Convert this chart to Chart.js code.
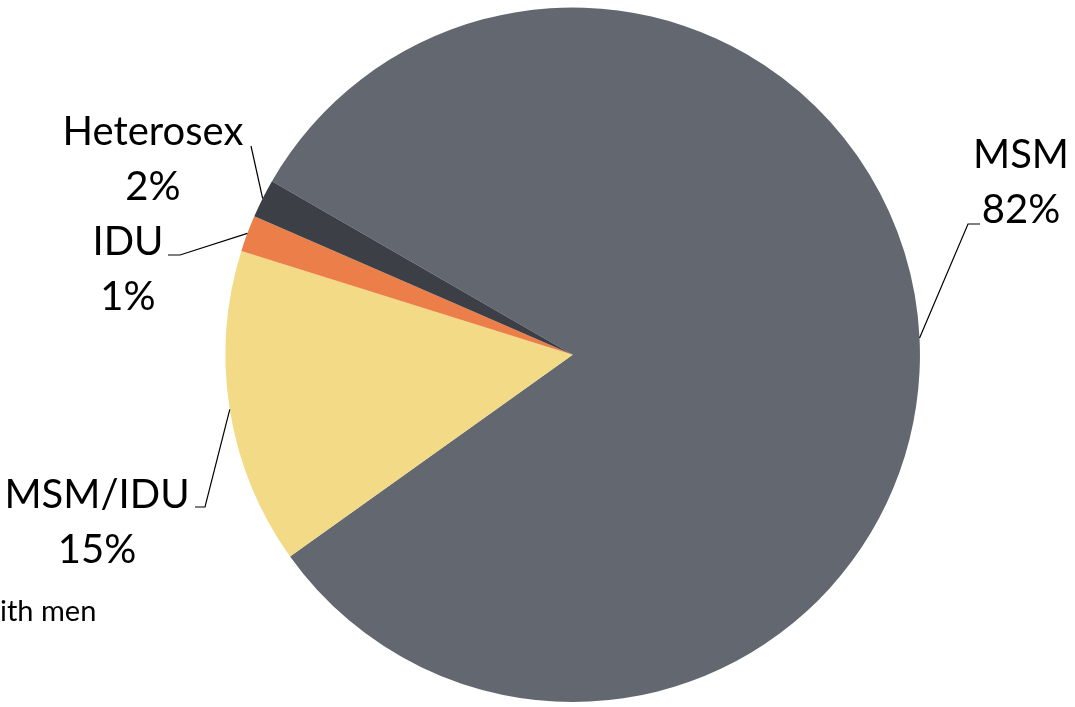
<!DOCTYPE html>
<html>
<head>
<meta charset="utf-8">
<script src="https://cdn.jsdelivr.net/npm/chart.js@4.4.1/dist/chart.umd.min.js"></script>
<style>
  html, body { margin: 0; padding: 0; background: #fff; overflow: hidden; }
  #riskChart { display: block; }
</style>
</head>
<body>
<canvas id="riskChart" width="1075" height="707"></canvas>
<script>
// slice shares (percent)
const categories = ["MSM", "MSM/IDU", "IDU", "Heterosex"];
const shares = [81.8, 14.7, 1.7, 1.8];
const shareLabels = ["82%", "15%", "1%", "2%"];
const sliceColors = ["#636870", "#F3DA86", "#EC7F49", "#3C3F45"];
const footnote = "ith men";

// where each label sits: text centre x, first baseline y, elbow of the leader line
const labelLayout = [
    {x: 1021, y: 168, elbow: [968, 224], tail: [980, 224]},
    {x: 97, y: 508, elbow: [205, 507], tail: [195, 507]},
    {x: 128, y: 255, elbow: [180, 255], tail: [168, 255]},
    {x: 153, y: 145, elbow: [251, 146], tail: [251, 146]}
];

const labelFont = "40px Lato, 'Open Sans', sans-serif";

const leaderLabels = {
    id: "leaderLabels",
    afterDraw(chart) {
        const ctx = chart.ctx;
        const arcs = chart.getDatasetMeta(0).data;
        ctx.save();
        ctx.strokeStyle = "#000";
        ctx.lineWidth = 1.2;
        arcs.forEach((arc, i) => {
            const mid = (arc.startAngle + arc.endAngle) / 2;
            const ax = arc.x + Math.cos(mid) * arc.outerRadius;
            const ay = arc.y + Math.sin(mid) * arc.outerRadius;
            const lay = labelLayout[i];
            ctx.beginPath();
            ctx.moveTo(ax, ay);
            ctx.lineTo(lay.elbow[0], lay.elbow[1]);
            ctx.lineTo(lay.tail[0], lay.tail[1]);
            ctx.stroke();

            ctx.fillStyle = "#000";
            ctx.font = labelFont;
            ctx.textAlign = "center";
            ctx.textBaseline = "alphabetic";
            ctx.fillText(categories[i], lay.x, lay.y);
            ctx.fillText(shareLabels[i], lay.x, lay.y + 55);
        });
        ctx.font = "29px Lato, 'Open Sans', sans-serif";
        ctx.textAlign = "left";
        ctx.fillText(footnote, 0, 621);
        ctx.restore();
    }
};

new Chart(document.getElementById("riskChart"), {
    type: "pie",
    data: {
        labels: categories,
        datasets: [{
            data: shares,
            backgroundColor: sliceColors,
            borderWidth: 0
        }]
    },
    options: {
        responsive: false,
        animation: false,
        rotation: -60,
        layout: {
            padding: {top: 7.5, bottom: 5, left: 200, right: 129.6}
        },
        plugins: {
            legend: {display: false},
            tooltip: {enabled: false}
        }
    },
    plugins: [leaderLabels]
});
</script>
</body>
</html>
